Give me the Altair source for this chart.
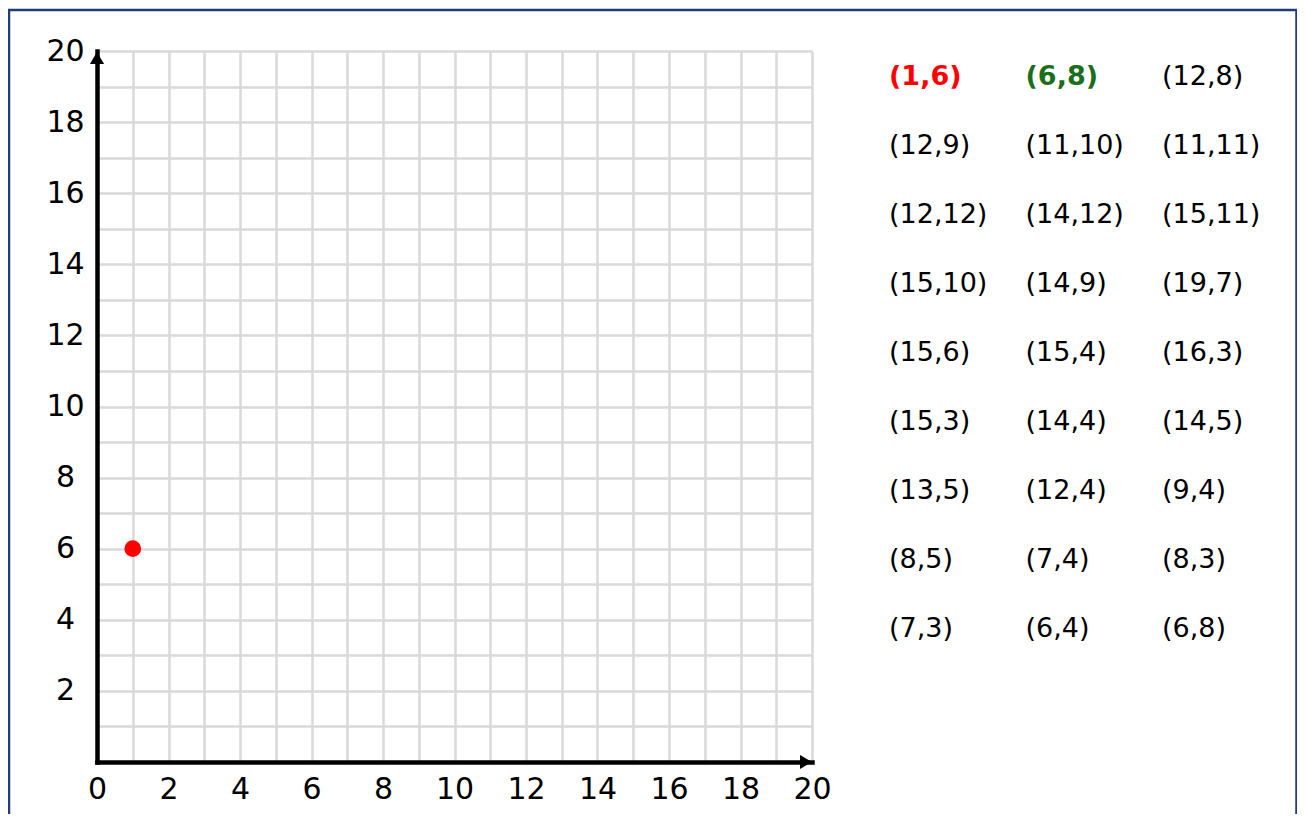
import altair as alt
import pandas as pd

# ---- data -------------------------------------------------------------
list_x = [1, 6, 12, 12, 11, 11, 12, 14, 15, 15, 14, 19, 15, 15, 16, 15, 14, 14,
          13, 12, 9, 8, 7, 8, 7, 6, 6]
list_y = [6, 8, 8, 9, 10, 11, 12, 12, 11, 10, 9, 7, 6, 4, 3, 3, 4, 5,
          5, 4, 4, 5, 4, 3, 3, 4, 8]
highlight_colors = ["#ff0000", "#1b6f1b"]   # first two coordinates
n_cols = 3

plotted_x = [1]
plotted_y = [6]

axis_min = 0
axis_max = 20
grid_values = list(range(axis_min, axis_max + 1))

# ---- tables -----------------------------------------------------------
labels = [f"({a},{b})" for a, b in zip(list_x, list_y)]
n = len(labels)
list_df = pd.DataFrame({
    "label": labels,
    "col": [i % n_cols for i in range(n)],
    "row": [i // n_cols for i in range(n)],
    "color": [highlight_colors[i] if i < len(highlight_colors) else "#000000" for i in range(n)],
    "bold": [i < len(highlight_colors) for i in range(n)],
})
n_rows = int(list_df["row"].max())

point_df = pd.DataFrame({"x": plotted_x, "y": plotted_y})
arrow_x_df = pd.DataFrame({"x": [axis_max], "y": [axis_min]})
arrow_y_df = pd.DataFrame({"x": [axis_min], "y": [axis_max]})

FONT = "DejaVu Sans"
W, H = 715, 711

xs = alt.Scale(domain=[axis_min, axis_max], nice=False, zero=False)
ys = alt.Scale(domain=[axis_min, axis_max], nice=False, zero=False)

common_axis = dict(
    values=grid_values, tickCount=len(grid_values), grid=True, gridColor="#d9d9d9",
    gridWidth=2.5, ticks=False, tickSize=0, domainColor="#000000",
    domainWidth=4.5, domainCap="square", labelFont=FONT, labelFontSize=30,
    labelColor="#000000", labelFlush=False, labelOverlap=False, title=None,
    labelBaseline="middle", labelAlign="center",
)
x_axis = alt.Axis(
    labelPadding=27,
    labelExpr="datum.value % 2 === 0 ? datum.label : ''",
    **common_axis,
)
y_axis = alt.Axis(
    labelPadding=32,
    labelExpr="datum.value % 2 === 0 && datum.value > 0 ? datum.label : ''",
    **common_axis,
)

X = alt.X("x:Q", scale=xs, axis=x_axis)
Y = alt.Y("y:Q", scale=ys, axis=y_axis)

points = alt.Chart(point_df).mark_circle(size=280, color="#ff0000", opacity=1).encode(x=X, y=Y)

arrow_right = alt.Chart(arrow_x_df).mark_point(
    shape="triangle-right", filled=True, color="#000000",
    opacity=1, size=190, xOffset=-6,
).encode(x=X, y=Y)

arrow_up = alt.Chart(arrow_y_df).mark_point(
    shape="triangle-up", filled=True, color="#000000",
    opacity=1, size=200, yOffset=7,
).encode(x=X, y=Y)

frame = alt.Chart(point_df).mark_rect(
    filled=False, stroke="#1f3d7a", strokeWidth=2.5, clip=False
).encode(x=alt.value(-88), x2=alt.value(1199.5), y=alt.value(-41), y2=alt.value(820))

main = alt.layer(points, arrow_right, arrow_up, frame)

tx = alt.Scale(domain=[0, n_cols - 1], range=[792, 1065])
ty = alt.Scale(domain=[0, n_rows], range=[26, 578])

text_bold = alt.Chart(list_df).transform_filter("datum.bold").mark_text(
    font=FONT, fontSize=27, fontWeight="bold", align="left", baseline="middle"
).encode(
    x=alt.X("col:Q", scale=tx, axis=None),
    y=alt.Y("row:Q", scale=ty, axis=None),
    text="label:N",
    color=alt.Color("color:N", scale=None),
)
text_norm = alt.Chart(list_df).transform_filter("!datum.bold").mark_text(
    font=FONT, fontSize=27, align="left", baseline="middle", color="#000000"
).encode(
    x=alt.X("col:Q", scale=tx, axis=None),
    y=alt.Y("row:Q", scale=ty, axis=None),
    text="label:N",
)
texts = alt.layer(text_bold, text_norm)

chart = alt.layer(main, texts).resolve_scale(
    x="independent", y="independent"
).properties(
    width=W, height=H,
    padding={"left": 89, "top": 43, "right": 485, "bottom": 52},
    autosize=alt.AutoSizeParams(type="none"),
    background="#ffffff",
).configure_view(stroke=None)

chart.save("out.html", embed_options={"renderer": "svg", "actions": False})
